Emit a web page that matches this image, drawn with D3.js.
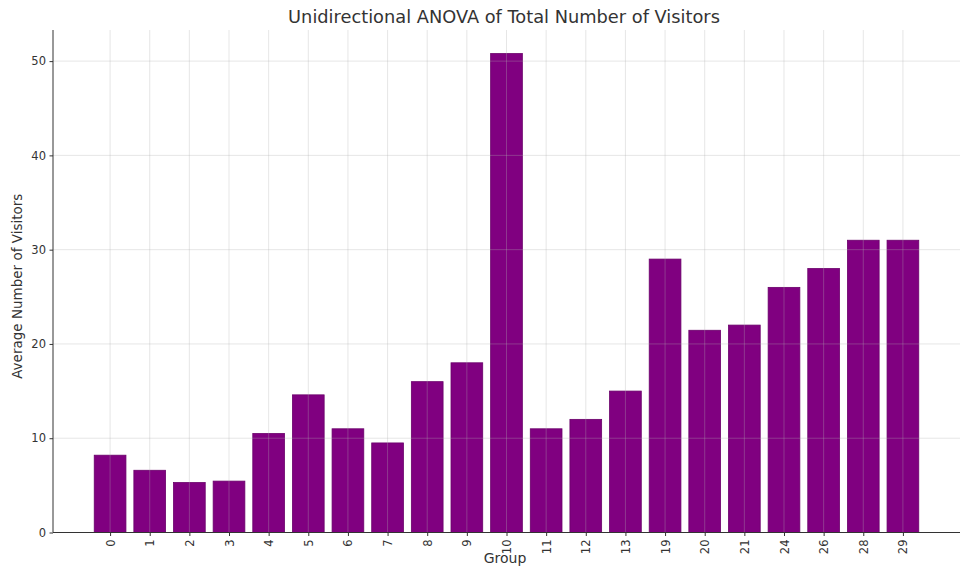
<!DOCTYPE html>
<html>
<head>
<meta charset="utf-8">
<script src="https://cdn.jsdelivr.net/npm/d3@7"></script>
<style>
html,body{margin:0;padding:0;background:#fff;}
svg{display:block;font-family:"DejaVu Sans",sans-serif;}
</style>
</head>
<body>
<svg id="chart" width="960" height="566"></svg>
<script>
const groups = ["0","1","2","3","4","5","6","7","8","9","10","11","12","13","19","20","21","24","26","28","29"];
const visitors = [8.2,6.6,5.3,5.45,10.5,14.6,11.0,9.5,16.0,18.0,50.8,11.0,12.0,15.0,29.0,21.45,22.0,26.0,28.0,31.0,31.0];
const yTicks = [0,10,20,30,40,50];

(function(){
const svg = d3.select("#chart");
const mLeft = 53, mRight = 960, mTop = 30, mBottom = 532.5;

const n = groups.length;
const x = d3.scaleLinear().domain([-1.44, n - 1 + 1.44]).range([mLeft, mRight]);
const y = d3.scaleLinear().domain([0, 53.3]).range([mBottom, mTop]);
const barW = x(0.8) - x(0);

// bars
svg.append("g").selectAll("rect").data(visitors).join("rect")
  .attr("x", (d,i) => x(i) - barW/2)
  .attr("y", d => y(d))
  .attr("width", barW)
  .attr("height", d => mBottom - y(d))
  .attr("fill", "#800080")
  .attr("stroke", "#6a006a")
  .attr("stroke-width", 0.8);

// grid (drawn over bars)
const grid = svg.append("g").attr("stroke", "#b0b0b0").attr("stroke-opacity", 0.4).attr("stroke-width", 0.8);
grid.selectAll("line.h").data(yTicks).join("line").attr("class","h")
  .attr("x1", mLeft).attr("x2", mRight).attr("y1", d => y(d)).attr("y2", d => y(d));
grid.selectAll("line.v").data(d3.range(n)).join("line").attr("class","v")
  .attr("x1", d => x(d)).attr("x2", d => x(d)).attr("y1", mTop).attr("y2", mBottom);

// axes
const yAxis = d3.axisLeft(y).tickValues(yTicks).tickSize(3.5).tickPadding(3.5);
const gy = svg.append("g").attr("transform", `translate(${mLeft},0)`).call(yAxis);
gy.select(".domain").remove();
gy.selectAll("text").attr("font-size", 11.5).attr("fill", "#333").attr("font-family","DejaVu Sans");
gy.selectAll("line").attr("stroke", "#333");

const xAxis = d3.axisBottom(x).tickValues(d3.range(n)).tickFormat(i => groups[i]).tickSize(3.5).tickPadding(3);
const gx = svg.append("g").attr("transform", `translate(0,${mBottom})`).call(xAxis);
gx.select(".domain").remove();
gx.selectAll("line").attr("stroke", "#333");
gx.selectAll("text")
  .attr("font-size", 11.5).attr("fill", "#333").attr("font-family","DejaVu Sans")
  .attr("transform", "rotate(-90)")
  .attr("text-anchor", "end")
  .attr("dy", "0.35em")
  .attr("x", -7).attr("y", 0);

// spines
svg.append("line").attr("x1", mLeft).attr("x2", mLeft).attr("y1", mTop).attr("y2", mBottom).attr("stroke", "#333").attr("stroke-width", 1);
svg.append("line").attr("x1", mLeft).attr("x2", mRight).attr("y1", mBottom).attr("y2", mBottom).attr("stroke", "#333").attr("stroke-width", 1);

// title and labels
svg.append("text").attr("x", 504).attr("y", 23).attr("text-anchor", "middle")
  .attr("font-size", 17.8).attr("fill", "#333").text("Unidirectional ANOVA of Total Number of Visitors");
svg.append("text").attr("transform", `translate(22,${(mTop+mBottom)/2 + 5}) rotate(-90)`).attr("text-anchor", "middle")
  .attr("font-size", 13.5).attr("fill", "#333").text("Average Number of Visitors");
svg.append("text").attr("x", 505).attr("y", 563).attr("text-anchor", "middle")
  .attr("font-size", 14).attr("fill", "#333").text("Group");
})();
</script>
</body>
</html>
